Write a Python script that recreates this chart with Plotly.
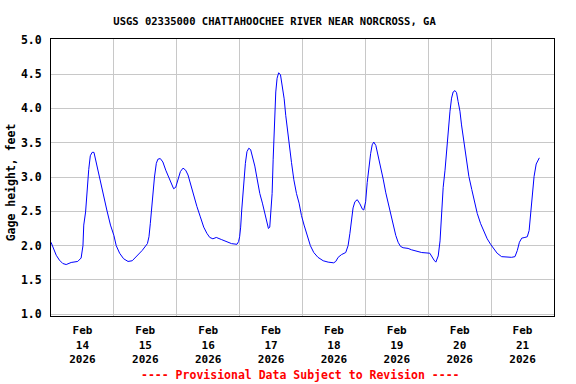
import pandas as pd
import plotly.graph_objects as go

# Hours since 2026-02-14 00:00 and gage height (ft)
hours = [0, 1, 2, 3.2, 4.5, 5.8, 7.7, 10.2, 11.5, 12.2, 12.5, 13.2, 13.7, 14.0, 14.4, 15.0,
         15.7, 16.4, 17.3, 18.3, 19.2, 20.2, 21.3, 22.7, 24.0, 24.9, 26.2, 27.7, 29.4, 31.0,
         32.8, 34.8, 36.8, 37.4, 37.9, 38.4, 39.0, 39.5, 40.2, 40.8, 41.7, 42.7, 43.8, 44.8,
         45.9, 46.8, 47.6, 48.5, 49.4, 50.4, 51.4, 52.3, 53.2, 54.5, 55.7, 57.0, 58.3, 59.5,
         60.6, 61.8, 63.1, 65.0, 67.0, 68.9, 71.0, 71.6, 72.0, 72.4, 72.8, 73.3, 73.7, 74.2,
         74.8, 75.5, 76.2, 76.9, 77.8, 78.6, 79.7, 80.7, 81.6, 82.2, 83.0, 83.5, 83.9, 84.4,
         84.8, 85.0, 85.4, 85.8, 86.3, 86.9, 87.6, 88.2, 89.0, 89.6, 90.3, 90.9, 91.8, 92.7,
         93.7, 94.7, 95.6, 96.6, 97.7, 99.0, 100.3, 101.9, 103.9, 105.8, 107.9, 108.7, 109.6,
         110.9, 112.5, 113.4, 114.1, 114.7, 115.3, 116.0, 116.9, 117.9, 118.9, 119.4, 120.1,
         120.7, 121.3, 122.0, 122.6, 123.2, 124.0, 124.9, 125.8, 126.8, 127.8, 128.7, 129.6,
         130.6, 131.6, 132.5, 133.4, 134.4, 136.3, 137.6, 139.5, 141.5, 144.6, 145.3, 146.2,
         146.9, 147.8, 148.5, 149.1, 149.7, 150.4, 151.0, 151.6, 152.3, 152.9, 153.5, 154.2,
         154.8, 155.4, 156.1, 156.7, 157.4, 158.0, 158.7, 159.5, 160.6, 161.6, 162.7, 164.0,
         165.3, 166.5, 167.8, 169.1, 170.3, 172.0, 173.9, 175.8, 177.1, 178.0, 178.8, 179.7,
         180.9, 181.8, 182.5, 183.1, 183.8, 184.4, 185.2, 185.9, 186.4]
gage_ft = [2.05, 1.95, 1.86, 1.79, 1.74, 1.725, 1.755, 1.77, 1.82, 2.0, 2.30, 2.49, 2.79, 2.93, 3.11, 3.31,
           3.36, 3.36, 3.20, 3.05, 2.91, 2.71, 2.52, 2.30, 2.15, 2.0, 1.89, 1.81, 1.77, 1.78,
           1.85, 1.93, 2.03, 2.13, 2.32, 2.57, 2.85, 3.0, 3.20, 3.26, 3.27, 3.22, 3.10, 3.0,
           2.91, 2.83, 2.85, 2.96, 3.08, 3.13, 3.10, 3.03, 2.91, 2.71, 2.57, 2.42, 2.27, 2.18,
           2.12, 2.10, 2.12, 2.09, 2.06, 2.03, 2.02, 2.06, 2.13, 2.27, 2.52, 2.81, 3.05, 3.20,
           3.37, 3.42, 3.40, 3.31, 3.16, 2.99, 2.76, 2.62, 2.47, 2.34, 2.25, 2.27, 2.49, 2.76,
           3.26, 3.50, 4.0, 4.24, 4.44, 4.52, 4.49, 4.34, 4.14, 3.90, 3.65, 3.43, 3.21, 2.96,
           2.76, 2.62, 2.44, 2.30, 2.15, 2.0, 1.90, 1.83, 1.78, 1.76, 1.75, 1.77, 1.83,
           1.87, 1.90, 2.0, 2.18, 2.42, 2.55, 2.64, 2.67, 2.61, 2.53, 2.52, 2.64,
           2.92, 3.16, 3.34, 3.47, 3.51, 3.46, 3.31, 3.16, 2.97, 2.77, 2.62, 2.45,
           2.30, 2.15, 2.05, 1.99, 1.97, 1.96, 1.94, 1.92, 1.90, 1.89, 1.84, 1.79,
           1.76, 1.85, 2.07, 2.45, 2.85, 3.1, 3.4, 3.6, 3.96, 4.15, 4.24, 4.26,
           4.23, 4.10, 3.96, 3.76, 3.56, 3.41, 3.24, 3.01, 2.82, 2.64, 2.47, 2.32,
           2.20, 2.10, 2.02, 1.95, 1.89, 1.84, 1.83, 1.83, 1.84, 1.93, 2.05, 2.11,
           2.12, 2.13, 2.22, 2.47, 2.77, 3.01, 3.19, 3.26, 3.28]

days = ["2026-02-14", "2026-02-15", "2026-02-16", "2026-02-17",
        "2026-02-18", "2026-02-19", "2026-02-20", "2026-02-21"]
tick_labels = ["Feb<br>14<br>2026", "Feb<br>15<br>2026", "Feb<br>16<br>2026", "Feb<br>17<br>2026",
               "Feb<br>18<br>2026", "Feb<br>19<br>2026", "Feb<br>20<br>2026", "Feb<br>21<br>2026"]
y_ticks = [1.0, 1.5, 2.0, 2.5, 3.0, 3.5, 4.0, 4.5, 5.0]

start = pd.Timestamp("2026-02-14")
x = start + pd.to_timedelta(hours, unit="h")
tick_pos = [pd.Timestamp(d) + pd.Timedelta(hours=12) for d in days]

FONT = "DejaVu Sans Mono"

fig = go.Figure()
fig.add_trace(go.Scatter(x=x, y=gage_ft, mode="lines",
                         line=dict(color="#0000FF", width=1), showlegend=False))

fig.update_layout(
    width=576, height=384,
    margin=dict(l=51, r=22, t=39, b=68, autoexpand=False),
    paper_bgcolor="white", plot_bgcolor="white",
    font=dict(family=FONT, size=11, color="black", weight="bold"),
    title=dict(text="USGS 02335000 CHATTAHOOCHEE RIVER NEAR NORCROSS, GA",
               x=0.4766, xanchor="center", xref="container",
               y=0.945, yanchor="middle", yref="container",
               font=dict(family=FONT, size=10.5, color="black", weight="bold")),
    xaxis=dict(
        type="date", automargin=False,
        range=[start, start + pd.Timedelta(days=8)],
        tickmode="array", tickvals=tick_pos, ticktext=tick_labels,
        showgrid=False, ticks="", ticklabelstandoff=4,
        tickfont=dict(family=FONT, size=11, color="black", weight="bold"),
        showline=True, linecolor="black", linewidth=1, mirror=True,
        zeroline=False,
        minor=dict(dtick=86400000, tick0="2026-02-14", showgrid=True,
                   gridcolor="#C8C8C8", gridwidth=1, ticks=""),
    ),
    yaxis=dict(
        automargin=False,
        range=[0.975, 5.012],
        tickmode="array", tickvals=y_ticks, ticktext=[f"{v:.1f}" for v in y_ticks],
        showgrid=True, gridcolor="#C8C8C8", gridwidth=1, ticks="",
        ticklabelstandoff=6,
        tickfont=dict(family=FONT, size=11.5, color="black", weight="bold"),
        showline=True, linecolor="black", linewidth=1, mirror=True,
        zeroline=False,
    ),
    annotations=[
        dict(text="Gage height, feet", textangle=-90, xref="paper", yref="paper",
             x=-0.0795, y=0.4825, xanchor="center", yanchor="middle", showarrow=False,
             font=dict(family=FONT, size=11.5, color="black", weight="bold")),
        dict(text="---- Provisional Data Subject to Revision ----", xref="paper", yref="paper",
             x=0.497, y=-0.213, xanchor="center", yanchor="middle", showarrow=False,
             font=dict(family=FONT, size=11.5, color="#FF0000", weight="bold")),
    ],
)

fig.write_html("out.html", config={"displayModeBar": False},
               post_script="document.body.style.margin='0';document.body.style.overflow='hidden';")
